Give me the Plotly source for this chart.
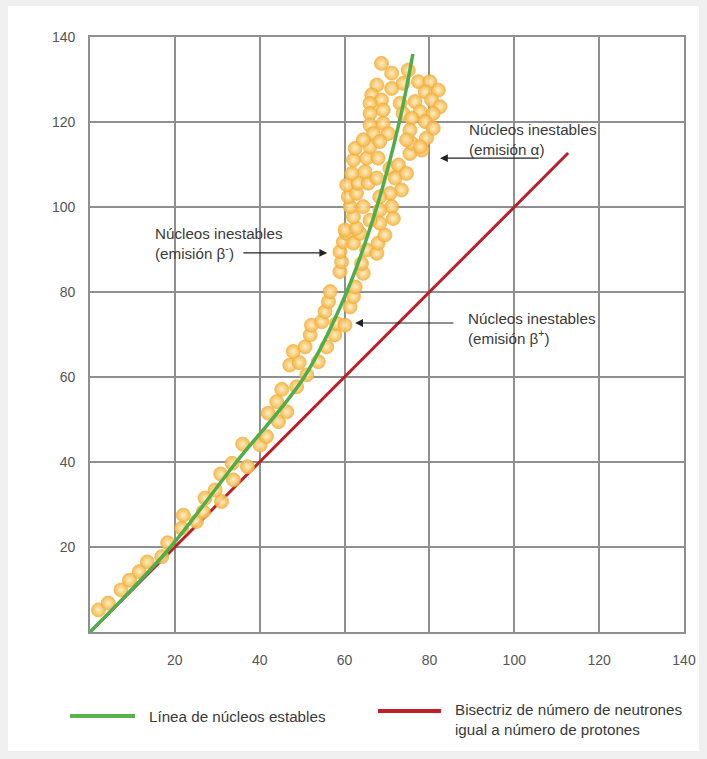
import plotly.graph_objects as go

# ---- data ----
nuc_x = [2.0, 4.3, 7.3, 9.3, 11.6, 13.5, 16.9, 18.3, 21.6, 22.0, 25.1, 26.7, 27.1, 29.5, 31.0, 30.8,
         33.5, 33.8, 36.0, 37.1, 40.1, 41.6, 42.0, 44.0, 44.4, 46.4, 45.2, 48.7, 47.1, 49.3, 47.9,
         51.1, 53.8, 50.7, 51.9, 52.2, 55.8, 57.7, 58.1, 54.6,
         55.4, 56.2, 56.6, 60.1, 61.3, 62.1, 62.5, 64.4, 58.9, 59.3, 58.9, 59.7, 60.5, 62.1, 63.6,
         64.0, 65.2, 67.6, 67.9, 69.5,
         60.1, 62.8, 62.1, 61.3, 64.4, 60.9, 62.8, 60.5, 63.2, 65.6, 61.7, 64.8, 67.6, 62.1, 65.2,
         67.9, 62.5, 66.0, 70.7, 72.7, 71.9, 74.6, 73.4, 70.7, 71.1, 68.3, 68.3, 71.5, 68.3, 75.4,
         78.2, 75.8, 66.0,
         68.7, 71.1, 75.0, 67.6, 71.1, 73.8, 77.4, 80.1, 66.4, 68.7, 79.0, 82.1, 66.0, 69.1, 73.1,
         76.6, 80.5, 82.5, 66.0, 73.8, 77.8, 80.9, 66.0, 69.1, 75.8, 79.0, 66.8, 70.3, 75.4, 80.9,
         64.4, 68.3, 74.6, 79.3, 77.8]
nuc_y = [5.2, 6.8, 9.9, 12.2, 14.2, 16.5, 17.7, 21.0, 24.4, 27.5, 26.0, 28.3, 31.5, 33.4, 30.7, 37.2,
         39.7, 35.8, 44.2, 38.9, 44.0, 46.0, 51.5, 54.2, 49.5, 51.8, 57.1, 57.7, 62.8, 63.4, 66.0,
         60.5, 63.6, 67.1, 69.9, 72.2, 67.1, 69.9, 72.6, 73.0,
         75.4, 77.7, 80.1, 72.2, 76.5, 78.9, 81.2, 84.4, 84.8, 87.1, 89.5, 91.8, 93.8, 91.5, 93.8,
         86.7, 89.9, 89.1, 91.5, 93.4,
         94.6, 95.0, 97.7, 100.1, 100.1, 102.4, 103.2, 105.2, 105.6, 105.6, 107.9, 108.3, 106.8, 111.1, 111.5,
         111.5, 113.8, 114.2, 109.1, 109.9, 106.8, 107.9, 104.0, 103.2, 100.1, 102.4, 99.3, 97.3, 96.2, 112.6,
         113.4, 115.0, 96.9,
         133.8, 131.5, 132.2, 128.7, 127.9, 129.1, 129.5, 129.5, 126.4, 125.2, 127.1, 127.5, 124.4, 122.8, 124.4,
         124.8, 125.2, 123.6, 122.0, 122.0, 122.4, 122.0, 119.3, 119.7, 120.9, 120.1, 117.3, 117.3, 118.1, 118.5,
         115.8, 115.4, 115.8, 116.2, 114.2]

stable_x = [0, 10, 19, 34.5, 50.5, 60.5, 67.6, 72.9, 76.1]
stable_y = [0, 10.2, 20, 40, 60, 80, 100, 120, 136]

bis_x = [0, 112.7]
bis_y = [0, 112.7]

tick_vals = [20, 40, 60, 80, 100, 120, 140]
tick_text = ["20", "40", "60", "80", "100", "120", "140"]

GREEN = "#4fae4a"
RED = "#b8202a"
GRID = "#8f8f8f"
TXT = "#3a3a3a"
FONT = "Liberation Sans, Arial, sans-serif"

fig = go.Figure()

fig.add_trace(go.Scatter(x=bis_x, y=bis_y, mode="lines",
                         line=dict(color=RED, width=3), hoverinfo="skip", showlegend=False))
fig.add_trace(go.Scatter(x=nuc_x, y=nuc_y, mode="markers",
                         marker=dict(size=14, color="#f5b33c", opacity=0.9,
                                     gradient=dict(type="radial", color="#fdecc0"),
                                     line=dict(color="#f2ad3a", width=0.8)),
                         hoverinfo="skip", showlegend=False))
fig.add_trace(go.Scatter(x=stable_x, y=stable_y, mode="lines",
                         line=dict(color=GREEN, width=3.5, shape="spline", smoothing=1.0),
                         hoverinfo="skip", showlegend=False))

W, H = 707, 759
L, R, T, B = 90, 684, 37, 632


def px(xp):
    return (xp - L) / (R - L)


def py(yp):
    return (B - yp) / (B - T)


shapes = [
    # white card on gray page
    dict(type="rect", xref="paper", yref="paper", x0=px(8), x1=px(699), y0=py(751), y1=py(6),
         fillcolor="white", line=dict(width=0), layer="below"),
    # legend lines
    dict(type="line", xref="paper", yref="paper", x0=px(70), x1=px(135), y0=py(716), y1=py(716),
         line=dict(color="#5db04f", width=4)),
    dict(type="line", xref="paper", yref="paper", x0=px(378), x1=px(441), y0=py(711), y1=py(711),
         line=dict(color="#c0202a", width=4)),
]

ann_font = dict(family=FONT, size=15.2, color=TXT)
annotations = [
    dict(x=14.85, y=91.3, xref="x", yref="y", text="Núcleos inestables<br>(emisión β<sup>-</sup>)",
         showarrow=False, xanchor="left", yanchor="middle", align="left", font=ann_font),
    dict(x=88.6, y=71.3, xref="x", yref="y", text="Núcleos inestables<br>(emisión β<sup>+</sup>)",
         showarrow=False, xanchor="left", yanchor="middle", align="left", font=ann_font),
    dict(x=88.8, y=116.0, xref="x", yref="y", text="Núcleos inestables<br>(emisión α)",
         showarrow=False, xanchor="left", yanchor="middle", align="left", font=ann_font),
    # arrows
    dict(x=55.9, y=89.2, ax=35.8, ay=89.2, xref="x", yref="y", axref="x", ayref="y", text="",
         showarrow=True, arrowhead=2, arrowsize=1.3, arrowwidth=1.2, arrowcolor="#222"),
    dict(x=62.5, y=72.7, ax=86.0, ay=72.7, xref="x", yref="y", axref="x", ayref="y", text="",
         showarrow=True, arrowhead=2, arrowsize=1.3, arrowwidth=1.2, arrowcolor="#222"),
    dict(x=82.5, y=111.5, ax=106.1, ay=111.5, xref="x", yref="y", axref="x", ayref="y", text="",
         showarrow=True, arrowhead=2, arrowsize=1.3, arrowwidth=1.2, arrowcolor="#222"),
    # legend texts
    dict(x=px(147), y=py(716), xref="paper", yref="paper", text="Línea de núcleos estables",
         showarrow=False, xanchor="left", yanchor="middle", align="left", font=ann_font),
    dict(x=px(453), y=py(719.5), xref="paper", yref="paper",
         text="Bisectriz de número de neutrones<br>igual a número de protones",
         showarrow=False, xanchor="left", yanchor="middle", align="left", font=ann_font),
]

axis_common = dict(range=[0, 140], tickvals=tick_vals, ticktext=tick_text,
                   showgrid=True, gridcolor=GRID, gridwidth=1.6,
                   showline=True, linecolor=GRID, linewidth=1.6, mirror=True,
                   zeroline=False, ticks="", fixedrange=True,
                   tickfont=dict(family=FONT, size=14, color="#555"))

fig.update_layout(
    width=W, height=H,
    margin=dict(l=L, r=W - R, t=T, b=H - B, pad=0),
    paper_bgcolor="#f0f0f0", plot_bgcolor="white",
    xaxis=dict(**axis_common, ticklabelstandoff=14),
    yaxis=dict(**axis_common, ticklabelstandoff=10),
    shapes=shapes, annotations=annotations,
    showlegend=False,
)

fig.write_html(
    "out.html",
    config={"displayModeBar": False},
    post_script="document.body.style.margin='0';document.body.style.background='#f0f0f0';"
                "document.body.style.overflow='hidden';",
)
